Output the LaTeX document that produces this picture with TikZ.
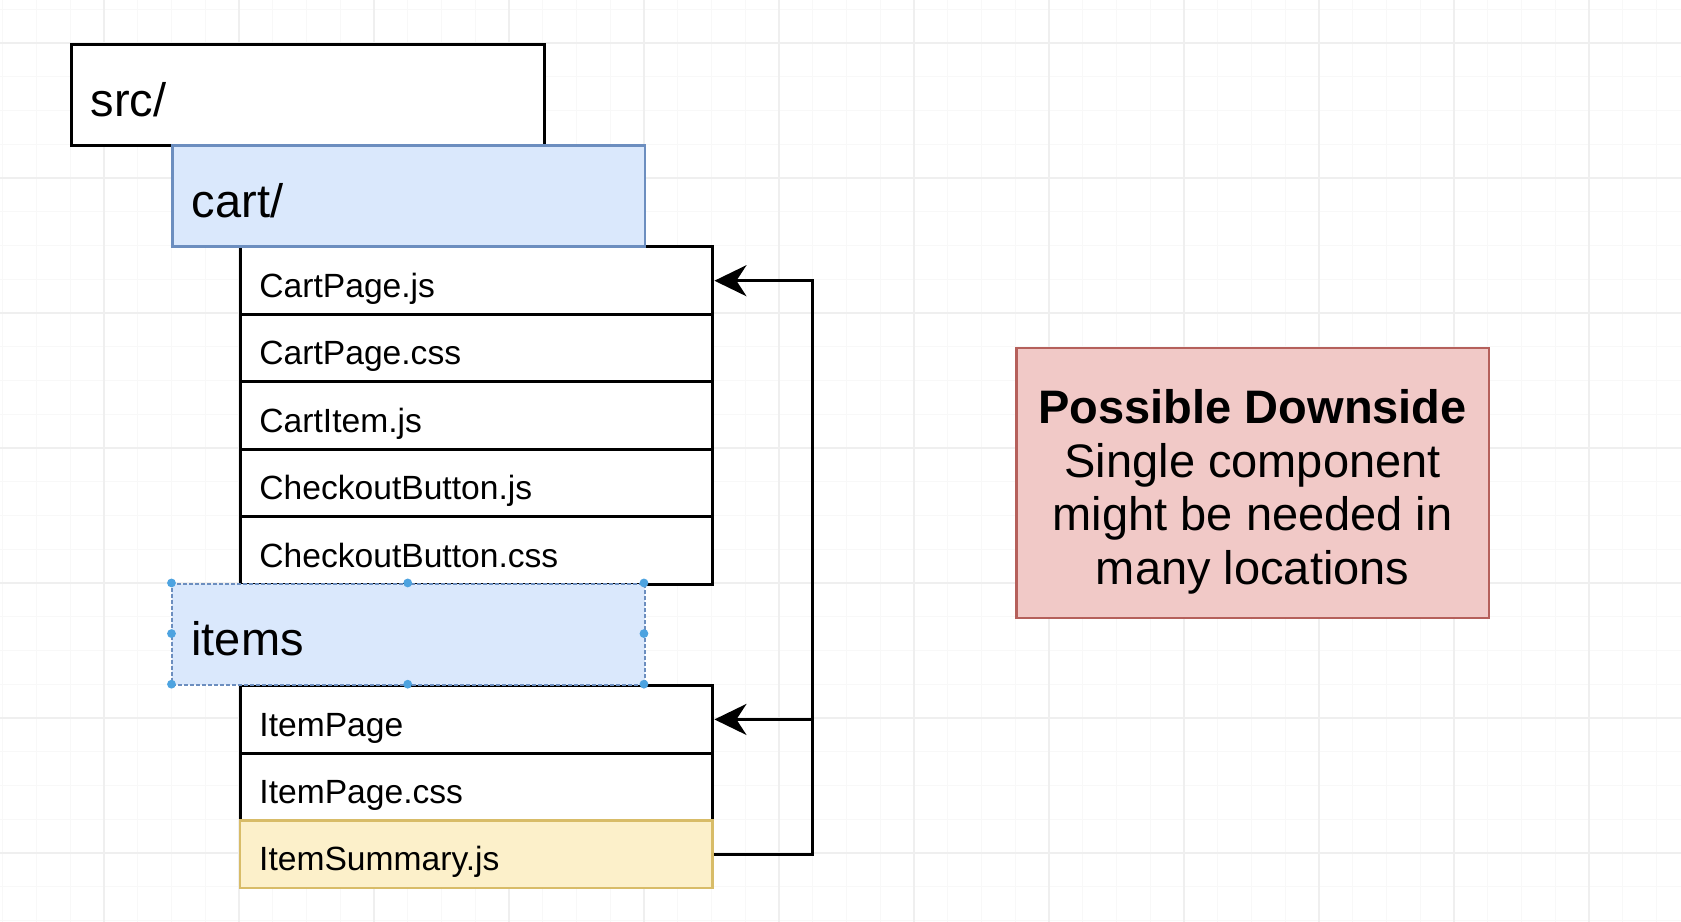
\documentclass[tikz,border=0pt]{standalone}
\usepackage{fontspec}
\setmainfont{Liberation Sans}
\usetikzlibrary{arrows.meta}
\definecolor{bluefill}{HTML}{DAE8FC}
\definecolor{blueline}{HTML}{6C8EBF}
\definecolor{redfill}{HTML}{F1C9C7}
\definecolor{redline}{HTML}{B5605B}
\definecolor{yellowfill}{HTML}{FCF0CA}
\definecolor{yellowline}{HTML}{D8BC68}
\definecolor{handle}{HTML}{4DA3E0}
\definecolor{gridminor}{HTML}{F8F8F8}
\definecolor{gridmajor}{HTML}{EFEFEF}
\begin{document}
\begin{tikzpicture}[x=16.875pt, y=-16.875pt,
    box/.style={draw, line width=1.5pt, anchor=north west, inner ysep=0pt, inner xsep=9.5pt,
      text width=217.25pt, align=left},
    folder/.style={box, minimum height=50.625pt, text height=21pt, text depth=0pt,
      font=\fontsize{23.5pt}{28pt}\selectfont},
    file/.style={box, fill=white, minimum height=33.75pt, text height=16.6pt, text depth=0pt,
      font=\fontsize{16.8pt}{20pt}\selectfont},
    warn/.style={draw=redline, fill=redfill, line width=1.25pt, anchor=north west, inner sep=0pt,
      minimum width=236.25pt, minimum height=135pt, align=center,
      font=\fontsize{23.5pt}{26.8pt}\selectfont},
    link/.style={line width=1.5pt, -{Stealth[length=16pt, width=15.5pt, inset=5pt]}}]
    \useasboundingbox[fill=white] (-0.0815,-0.274) rectangle (49.73,27.04);

    % Griglia di sfondo
    \foreach \i in {0,...,49} \draw[gridminor, line width=0.6pt] (\i,-0.3) -- (\i,27.1);
    \foreach \j in {0,...,27} \draw[gridminor, line width=0.6pt] (-0.1,\j) -- (49.8,\j);
    \foreach \i in {3,7,...,47} \draw[gridmajor, line width=0.8pt] (\i,-0.3) -- (\i,27.1);
    \foreach \j in {1,5,...,25} \draw[gridmajor, line width=0.8pt] (-0.1,\j) -- (49.8,\j);

    % Cartella src
    \node[folder, fill=white] (src) at (2,1) {src/};

    % File del carrello
    \node[file] (cartpage) at (7,7) {CartPage.js};
    \node[file] (cartcss) at (7,9) {CartPage.css};
    \node[file] (cartitem) at (7,11) {CartItem.js};
    \node[file] (checkout) at (7,13) {CheckoutButton.js};
    \node[file] (checkoutcss) at (7,15) {CheckoutButton.css};

    % Cartella cart
    \node[folder, draw=blueline, fill=bluefill, line width=1.25pt] (cart) at (5,4) {cart/};

    % File degli articoli
    \node[file] (itempage) at (7,20) {ItemPage};
    \node[file] (itemcss) at (7,22) {ItemPage.css};
    \node[file, draw=yellowline, fill=yellowfill, line width=1.25pt] (summary) at (7,24) {ItemSummary.js};

    % Cartella items (selezionata)
    \node[folder, draw=blueline, fill=bluefill, line width=1pt, dash pattern=on 2pt off 1pt] (items) at (5,17) {items};
    \foreach \p in {(5,17),(12,17),(19,17),(5,18.5),(19,18.5),(5,20),(12,20),(19,20)}
        \fill[handle] \p circle (2.2pt);

    % Collegamenti
    \coordinate (rail) at (24,0);
    \draw[link] (summary.east) -- (summary.east -| rail) -- (cartpage.east -| rail) -- (cartpage.east);
    \draw[link] (itempage.east -| rail) -- (itempage.east);

    % Nota
    \node[warn] (downside) at (30,10) {\rule{0pt}{25.8pt}\textbf{Possible Downside}\\Single component\\might be needed in\\many locations};
\end{tikzpicture}
\end{document}
